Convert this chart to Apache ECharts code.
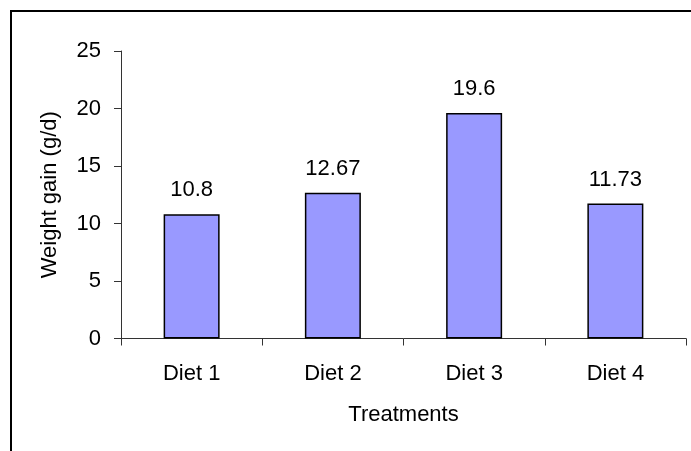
<!DOCTYPE html>
<html>
<head>
<meta charset="utf-8">
<script src="https://cdn.jsdelivr.net/npm/echarts@6/dist/echarts.min.js"></script>
<style>
html,body{margin:0;padding:0;background:#fff;}
#c{width:691px;height:451px;}
</style>
</head>
<body>
<div id="c"></div>
<script>
var categories = ['Diet 1', 'Diet 2', 'Diet 3', 'Diet 4'];
var weightGain = [10.8, 12.67, 19.6, 11.73];
var valueLabels = ['10.8', '12.67', '19.6', '11.73'];
var yTicks = [0, 5, 10, 15, 20, 25];

var chart = echarts.init(document.getElementById('c'), null, {renderer: 'canvas'});
var font = 'Arial, "Liberation Sans", sans-serif';
var fs = 22;
chart.setOption({
  animation: false,
  backgroundColor: '#fff',
  graphic: [{
    type: 'rect',
    shape: {x: 11, y: 11, width: 1000, height: 1000},
    style: {fill: 'none', stroke: '#000', lineWidth: 2},
    silent: true
  }],
  grid: {left: 121, top: 51, right: 5, bottom: 112.5},
  xAxis: {
    type: 'category',
    data: categories,
    name: 'Treatments',
    nameLocation: 'middle',
    nameGap: 65,
    nameTextStyle: {fontFamily: font, fontSize: fs, color: '#000'},
    axisLine: {lineStyle: {color: '#333', width: 1}},
    axisTick: {show: true, length: 7, alignWithLabel: false, lineStyle: {color: '#333'}},
    axisLabel: {fontFamily: font, fontSize: fs, color: '#000', margin: 24}
  },
  yAxis: {
    type: 'value',
    min: yTicks[0],
    max: yTicks[yTicks.length - 1],
    interval: yTicks[1] - yTicks[0],
    name: 'Weight gain (g/d)',
    nameLocation: 'middle',
    nameGap: 60,
    nameTextStyle: {fontFamily: font, fontSize: fs, color: '#000'},
    axisLine: {show: true, lineStyle: {color: '#333', width: 1}},
    axisTick: {show: true, length: 7, lineStyle: {color: '#333'}},
    splitLine: {show: false},
    axisLabel: {fontFamily: font, fontSize: fs, color: '#000', margin: 20}
  },
  series: [{
    type: 'bar',
    data: weightGain,
    barWidth: 56,
    itemStyle: {color: '#9999FF', borderColor: '#000', borderWidth: 1.5},
    label: {
      show: true,
      position: 'top',
      distance: 13,
      fontFamily: font,
      fontSize: fs,
      color: '#000',
      formatter: function (p) { return valueLabels[p.dataIndex]; }
    }
  }]
});
</script>
</body>
</html>
